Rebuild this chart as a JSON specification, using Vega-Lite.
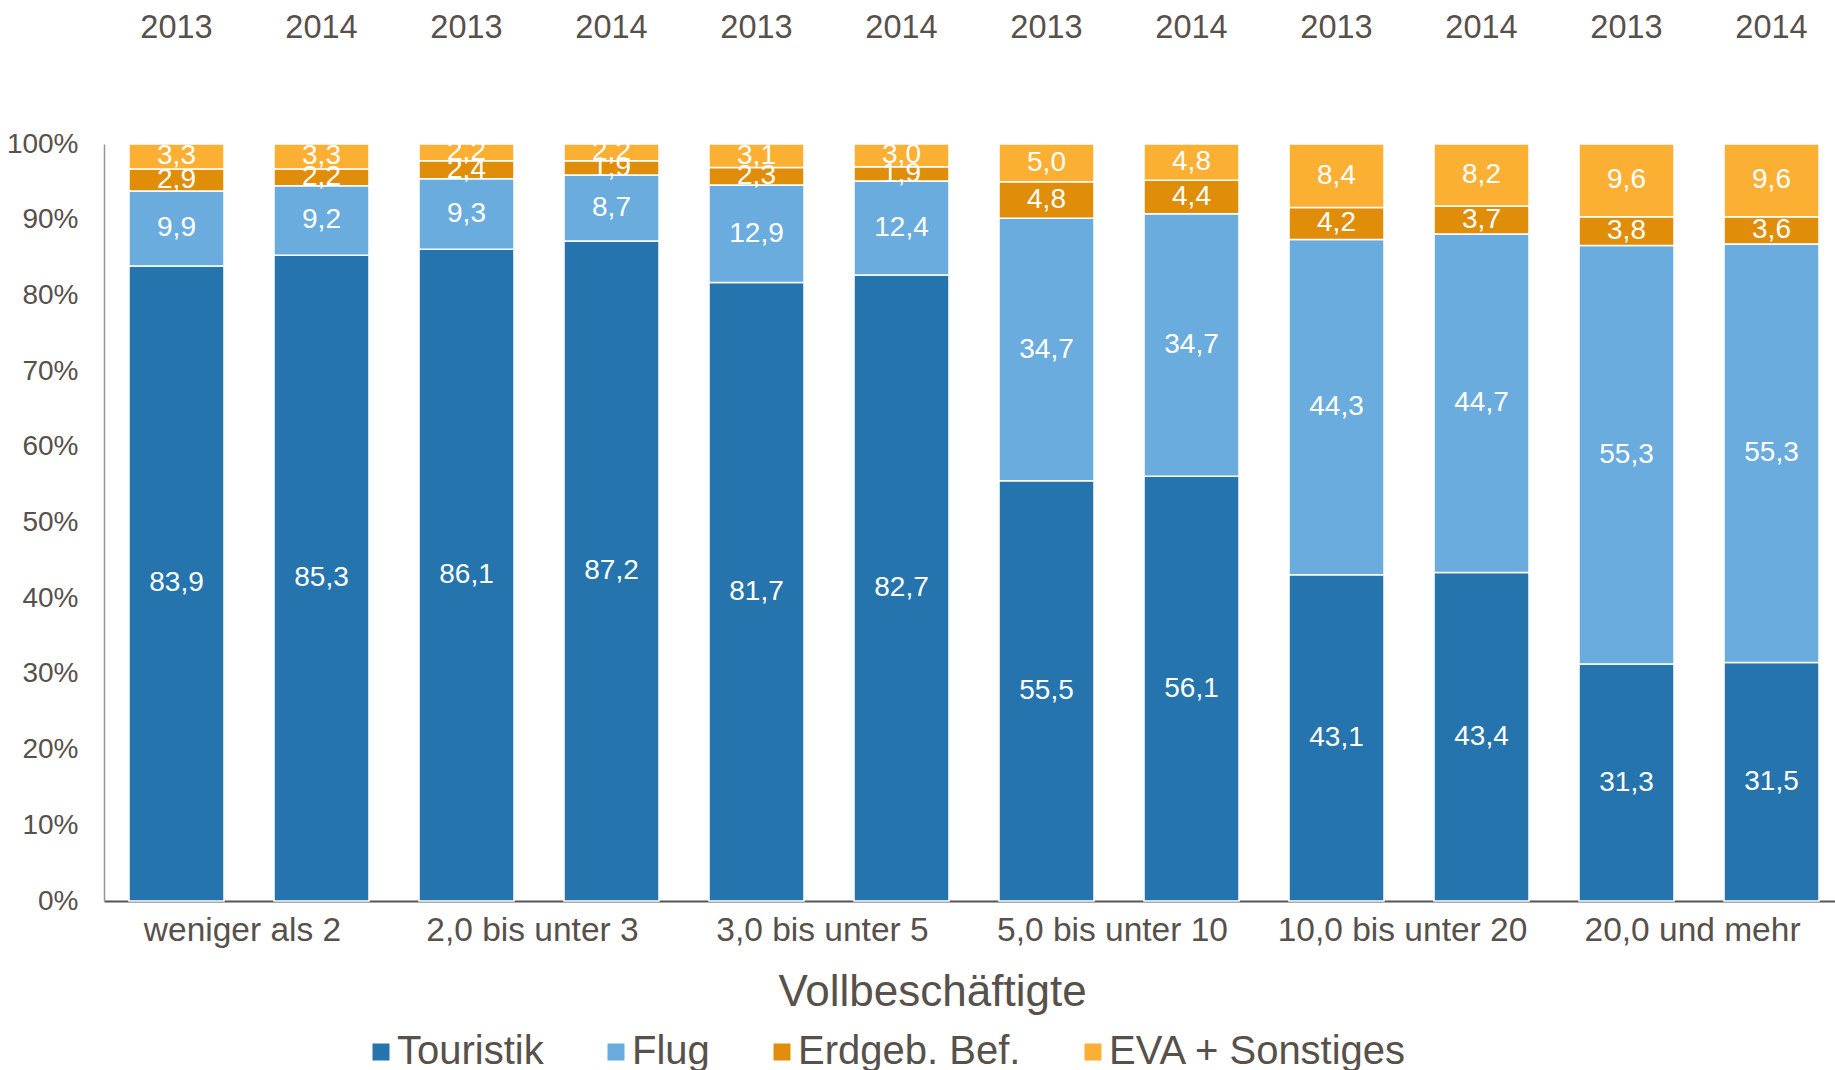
{
  "$schema": "https://vega.github.io/schema/vega-lite/v6.json",
  "autosize": {"type": "none"},
  "padding": {"left": 104, "top": 144, "right": 0, "bottom": 169},
  "width": 1731,
  "height": 757,
  "config": {
    "view": {"stroke": null},
    "font": "Liberation Sans",
    "locale": {"number": {"decimal": ",", "thousands": ".", "grouping": [3], "currency": ["", " €"]}}
  },
  "data": {
    "values": [
      {"group": "weniger als 2", "year": "2013", "series": "Touristik", "value": 83.9},
      {"group": "weniger als 2", "year": "2013", "series": "Flug", "value": 9.9},
      {"group": "weniger als 2", "year": "2013", "series": "Erdgeb. Bef.", "value": 2.9},
      {"group": "weniger als 2", "year": "2013", "series": "EVA + Sonstiges", "value": 3.3},
      {"group": "weniger als 2", "year": "2014", "series": "Touristik", "value": 85.3},
      {"group": "weniger als 2", "year": "2014", "series": "Flug", "value": 9.2},
      {"group": "weniger als 2", "year": "2014", "series": "Erdgeb. Bef.", "value": 2.2},
      {"group": "weniger als 2", "year": "2014", "series": "EVA + Sonstiges", "value": 3.3},
      {"group": "2,0 bis unter 3", "year": "2013", "series": "Touristik", "value": 86.1},
      {"group": "2,0 bis unter 3", "year": "2013", "series": "Flug", "value": 9.3},
      {"group": "2,0 bis unter 3", "year": "2013", "series": "Erdgeb. Bef.", "value": 2.4},
      {"group": "2,0 bis unter 3", "year": "2013", "series": "EVA + Sonstiges", "value": 2.2},
      {"group": "2,0 bis unter 3", "year": "2014", "series": "Touristik", "value": 87.2},
      {"group": "2,0 bis unter 3", "year": "2014", "series": "Flug", "value": 8.7},
      {"group": "2,0 bis unter 3", "year": "2014", "series": "Erdgeb. Bef.", "value": 1.9},
      {"group": "2,0 bis unter 3", "year": "2014", "series": "EVA + Sonstiges", "value": 2.2},
      {"group": "3,0 bis unter 5", "year": "2013", "series": "Touristik", "value": 81.7},
      {"group": "3,0 bis unter 5", "year": "2013", "series": "Flug", "value": 12.9},
      {"group": "3,0 bis unter 5", "year": "2013", "series": "Erdgeb. Bef.", "value": 2.3},
      {"group": "3,0 bis unter 5", "year": "2013", "series": "EVA + Sonstiges", "value": 3.1},
      {"group": "3,0 bis unter 5", "year": "2014", "series": "Touristik", "value": 82.7},
      {"group": "3,0 bis unter 5", "year": "2014", "series": "Flug", "value": 12.4},
      {"group": "3,0 bis unter 5", "year": "2014", "series": "Erdgeb. Bef.", "value": 1.9},
      {"group": "3,0 bis unter 5", "year": "2014", "series": "EVA + Sonstiges", "value": 3.0},
      {"group": "5,0 bis unter 10", "year": "2013", "series": "Touristik", "value": 55.5},
      {"group": "5,0 bis unter 10", "year": "2013", "series": "Flug", "value": 34.7},
      {"group": "5,0 bis unter 10", "year": "2013", "series": "Erdgeb. Bef.", "value": 4.8},
      {"group": "5,0 bis unter 10", "year": "2013", "series": "EVA + Sonstiges", "value": 5.0},
      {"group": "5,0 bis unter 10", "year": "2014", "series": "Touristik", "value": 56.1},
      {"group": "5,0 bis unter 10", "year": "2014", "series": "Flug", "value": 34.7},
      {"group": "5,0 bis unter 10", "year": "2014", "series": "Erdgeb. Bef.", "value": 4.4},
      {"group": "5,0 bis unter 10", "year": "2014", "series": "EVA + Sonstiges", "value": 4.8},
      {"group": "10,0 bis unter 20", "year": "2013", "series": "Touristik", "value": 43.1},
      {"group": "10,0 bis unter 20", "year": "2013", "series": "Flug", "value": 44.3},
      {"group": "10,0 bis unter 20", "year": "2013", "series": "Erdgeb. Bef.", "value": 4.2},
      {"group": "10,0 bis unter 20", "year": "2013", "series": "EVA + Sonstiges", "value": 8.4},
      {"group": "10,0 bis unter 20", "year": "2014", "series": "Touristik", "value": 43.4},
      {"group": "10,0 bis unter 20", "year": "2014", "series": "Flug", "value": 44.7},
      {"group": "10,0 bis unter 20", "year": "2014", "series": "Erdgeb. Bef.", "value": 3.7},
      {"group": "10,0 bis unter 20", "year": "2014", "series": "EVA + Sonstiges", "value": 8.2},
      {"group": "20,0 und mehr", "year": "2013", "series": "Touristik", "value": 31.3},
      {"group": "20,0 und mehr", "year": "2013", "series": "Flug", "value": 55.3},
      {"group": "20,0 und mehr", "year": "2013", "series": "Erdgeb. Bef.", "value": 3.8},
      {"group": "20,0 und mehr", "year": "2013", "series": "EVA + Sonstiges", "value": 9.6},
      {"group": "20,0 und mehr", "year": "2014", "series": "Touristik", "value": 31.5},
      {"group": "20,0 und mehr", "year": "2014", "series": "Flug", "value": 55.3},
      {"group": "20,0 und mehr", "year": "2014", "series": "Erdgeb. Bef.", "value": 3.6},
      {"group": "20,0 und mehr", "year": "2014", "series": "EVA + Sonstiges", "value": 9.6}
    ]
  },
  "transform": [
    {"calculate": "datum.group + ' ' + datum.year", "as": "bar"},
    {"calculate": "indexof(['Touristik','Flug','Erdgeb. Bef.','EVA + Sonstiges'], datum.series)", "as": "ord"},
    {"stack": "value", "groupby": ["bar"], "sort": [{"field": "ord", "order": "ascending"}], "as": ["y0", "y1"]},
    {"calculate": "(datum.y0 + datum.y1) / 2", "as": "mid"}
  ],
  "resolve": {"axis": {"x": "independent"}},
  "layer": [
    {
      "mark": {"type": "bar", "stroke": "white", "strokeWidth": 1.5},
      "encoding": {
        "x": {
          "field": "bar", "type": "nominal", "sort": null,
          "scale": {"paddingInner": 0.345, "paddingOuter": 0.1414, "align": 0.61},
          "axis": {
            "orient": "bottom",
            "title": "Vollbeschäftigte",
            "titleFontSize": 44, "titleFontWeight": "normal", "titleColor": "#58504A",
            "titlePadding": 24, "titleX": 828,
            "labelExpr": "slice(datum.label,-4)=='2013' ? slice(datum.label,0,-5) : ''",
            "labelFontSize": 33.5, "labelColor": "#58504A", "labelPadding": 13, "labelOffset": 66,
            "labelOverlap": false, "labelAngle": 0, "labelLimit": 400, "labelBound": false,
            "ticks": false, "domainColor": "#555555", "domainWidth": 2
          }
        },
        "y": {
          "field": "y1", "type": "quantitative",
          "scale": {"domain": [0, 100], "nice": false},
          "axis": {
            "title": null, "values": [0,10,20,30,40,50,60,70,80,90,100],
            "labelExpr": "datum.value + '%'", "labelFontSize": 28, "labelColor": "#58504A",
            "labelPadding": 26, "ticks": false, "grid": false,
            "domainColor": "#9a9591", "domainWidth": 1.5
          }
        },
        "y2": {"field": "y0"},
        "color": {
          "field": "series", "type": "nominal",
          "scale": {"domain": ["Touristik", "Flug", "Erdgeb. Bef.", "EVA + Sonstiges"], "range": ["#2574AE", "#6AACDE", "#E08D0A", "#FBB034"]},
          "legend": {
            "orient": "none", "legendX": 257, "legendY": 888, "direction": "horizontal",
            "title": null, "labelFontSize": 40, "labelColor": "#58504A", "labelLimit": 600,
            "symbolType": "square", "symbolSize": 289, "symbolStrokeWidth": 0,
            "labelOffset": -4, "columnPadding": 52, "padding": 0
          }
        }
      }
    },
    {
      "mark": {"type": "text", "color": "white", "fontSize": 28, "align": "center", "baseline": "middle"},
      "encoding": {
        "x": {
          "field": "bar", "type": "nominal", "sort": null,
          "axis": {
            "orient": "top", "title": null,
            "labelExpr": "slice(datum.label,-4)",
            "labelFontSize": 32.5, "labelColor": "#58504A", "labelPadding": 100,
            "labelAngle": 0, "labelOverlap": false, "ticks": false, "domain": false
          }
        },
        "y": {"field": "mid", "type": "quantitative"},
        "text": {"field": "value", "type": "quantitative", "format": ".1f"}
      }
    }
  ]
}
